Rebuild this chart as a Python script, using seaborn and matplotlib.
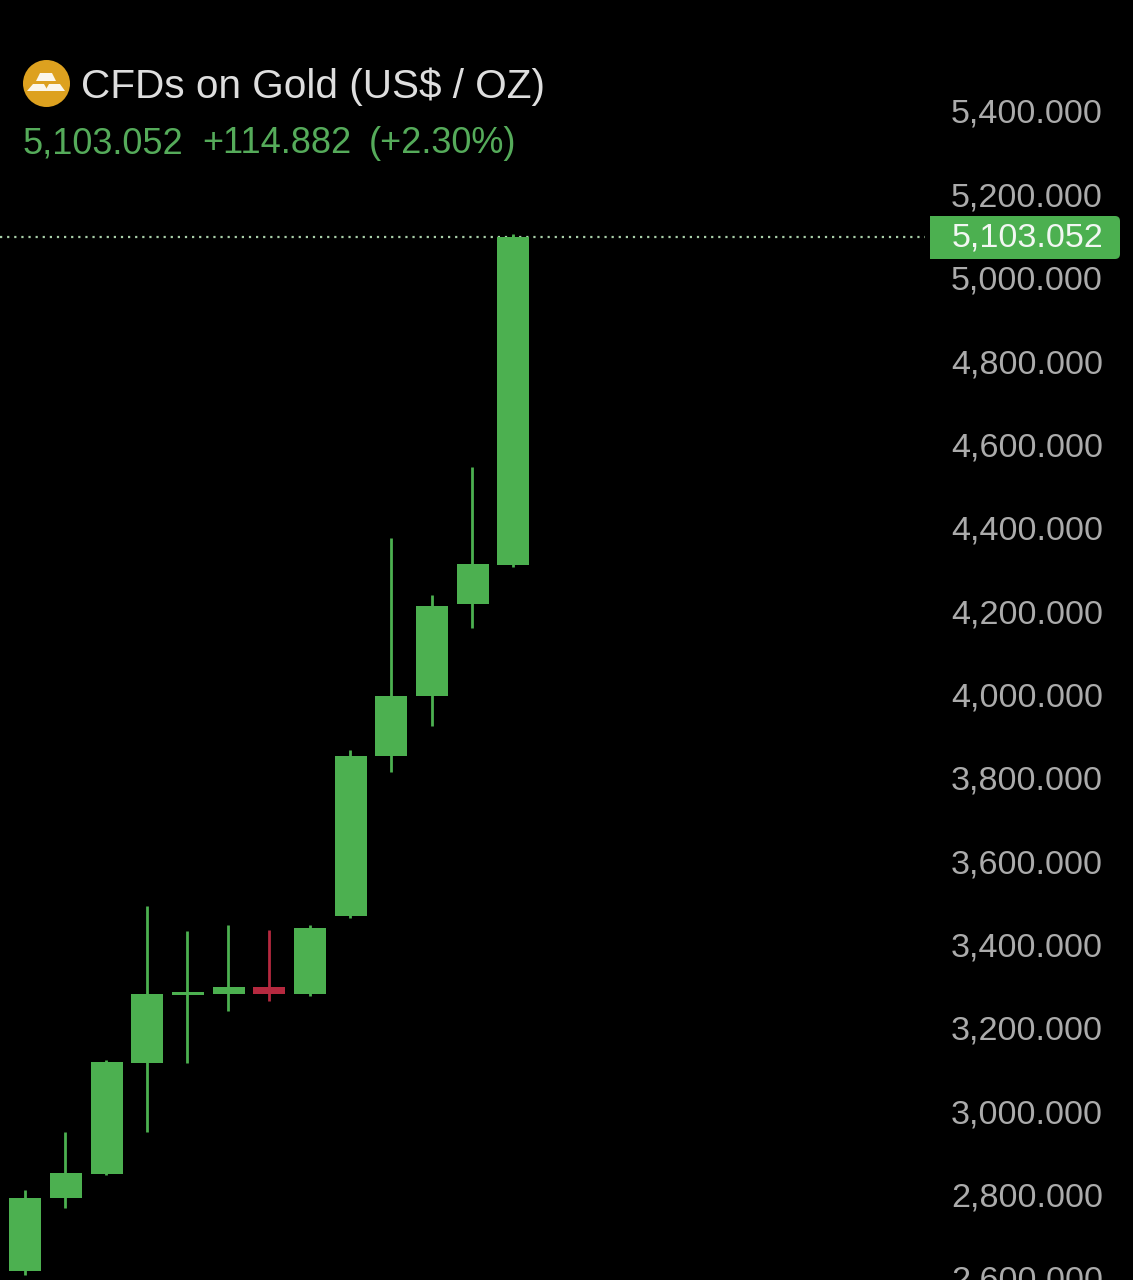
import matplotlib
matplotlib.use('Agg')
import matplotlib.pyplot as plt
from matplotlib.patches import Circle, FancyBboxPatch, Polygon, Rectangle
from matplotlib.transforms import ScaledTranslation
import numpy as np
import pandas as pd
import seaborn as sns

# candles, oldest first
opens = [2622.4, 2797.5, 2854.8, 3121.3, 3284.8, 3286.8, 3303.6, 3286.8, 3473.8, 3857.7, 4001.6, 4222.3, 4315.8]
closes = [2797.5, 2857.4, 3123.7, 3286.8, 3290.8, 3303.6, 3286.8, 3445.1, 3857.7, 4001.6, 4217.5, 4318.2, 5103.052]
highs = [2816.6, 2955.8, 3128.5, 3497.8, 3437.8, 3452.3, 3440.3, 3452.3, 3871.8, 4380.6, 4243.8, 4550.8, 5109.8]
lows = [2612.8, 2773.5, 2852.8, 2955.8, 3121.3, 3245.8, 3269.8, 3281.8, 3468.8, 3819.3, 3929.6, 4164.8, 4310.8]

price_ticks = [2600, 2800, 3000, 3200, 3400, 3600, 3800, 4000, 4200, 4400, 4600, 4800, 5000, 5200, 5400]
last_price = 5103.052
title = 'CFDs on Gold (US$ / OZ)'
sub_price = '5,103.052'
sub_change = '+114.882'
sub_pct = '(+2.30%)'

GREEN = '#4cb050'
RED = '#b5293f'
TICK_GREY = '#ababab'

sns.set_theme(style='dark')
plt.rcParams['font.family'] = ['Liberation Sans', 'DejaVu Sans']

df = pd.DataFrame({'i': range(len(opens)), 'open': opens, 'close': closes, 'high': highs, 'low': lows})
df['body'] = (df['close'] - df['open']).abs()
df['base'] = df[['open', 'close']].min(axis=1)
df['dir'] = np.where(df['close'] >= df['open'], 'up', 'down')

fig = plt.figure(figsize=(11.33, 12.8), dpi=100, facecolor='black')
ax = fig.add_axes([0, 0, 1, 1], facecolor='black')

# body bars one direction at a time so each gets its own bottom
for d, col in [('up', GREEN), ('down', RED)]:
    sub = df[df['dir'] == d]
    sns.barplot(data=sub, x='i', y='body', color=col, bottom=sub['base'].values, native_scale=True,
                width=0.78, saturation=1, linewidth=0, ax=ax, zorder=3)
    ax.vlines(sub['i'] - 0.012, sub['low'], sub['high'], color=col, lw=2.0, zorder=2)

ax.axhline(last_price, xmin=0, xmax=925 / 1133, color='#a9cfa9', lw=1.6, ls=(0, (1, 2.2)), zorder=1)

# scale: 5400 at y=113px, 200 units = 83.38px
ax.set_ylim(2600.8, 5671.0)
ax.set_xlim(-25.3 / 40.67, (1133 - 25.3) / 40.67)
ax.set_xticks([])
ax.set_xlabel('')
ax.set_ylabel('')
ax.set_yticks(price_ticks)
ax.set_yticklabels([f'{p:,.3f}' for p in price_ticks])
ax.yaxis.tick_right()
ax.tick_params(axis='y', length=0, pad=-21.6, labelsize=24.6, labelcolor=TICK_GREY)
# labels sit a little above their gridline on this platform
lift = ScaledTranslation(0, 2 / 100, fig.dpi_scale_trans)
for t in ax.get_yticklabels():
    t.set_ha('right')
    t.set_transform(t.get_transform() + lift)
ax.grid(False)
sns.despine(ax=ax, left=True, bottom=True, right=True, top=True)

# overlay in pixel coordinates for logo, header and price tag
ov = fig.add_axes([0, 0, 1, 1], facecolor='none')
ov.set_xlim(0, 1133)
ov.set_ylim(1280, 0)
ov.axis('off')

ov.add_patch(Circle((46.5, 83.5), 23.5, color='#dda11f', lw=0))
for pts in [[(40, 73), (52, 73), (56, 81), (36, 81)],
            [(33, 84), (44, 84), (48, 91), (27, 91)],
            [(49, 84), (60, 84), (65, 91), (45, 91)]]:
    ov.add_patch(Polygon(pts, closed=True, color='#fbf6ea', lw=0))

ov.text(81, 98, title, color='#dedede', fontsize=29.2, va='baseline', ha='left')
ov.text(22, 153, sub_price, color='#55ab5a', fontsize=26, va='baseline', ha='left')
ov.text(202, 153, sub_change, color='#55ab5a', fontsize=26, va='baseline', ha='left')
ov.text(369, 153, sub_pct, color='#55ab5a', fontsize=26, va='baseline', ha='left')

ov.add_patch(FancyBboxPatch((934, 216), 186, 43, boxstyle='round,pad=0,rounding_size=5', color=GREEN, lw=0))
ov.add_patch(Rectangle((930, 216), 12, 43, color=GREEN, lw=0))
ov.text(1103, 238, f'{last_price:,.3f}', color='#f2f7f2', fontsize=24.6, va='center', ha='right')

fig.savefig('out.png', dpi=100, facecolor='black')
